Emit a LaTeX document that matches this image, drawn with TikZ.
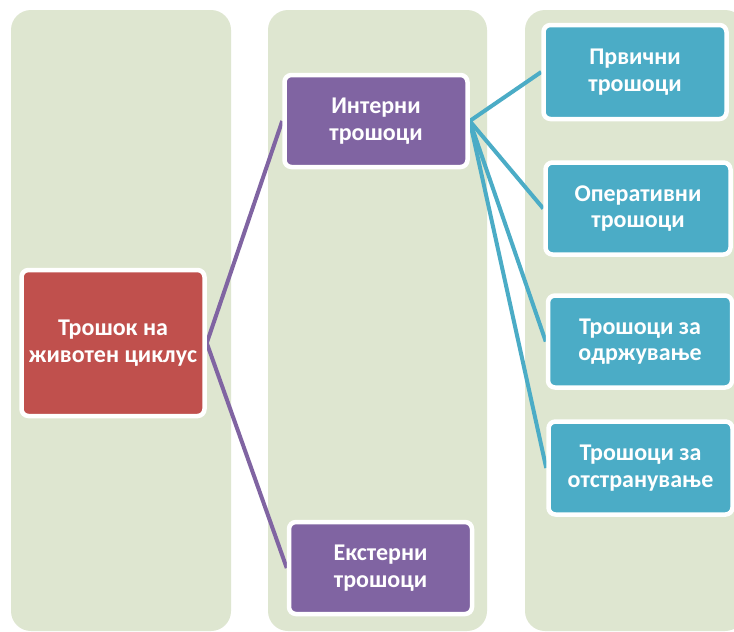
\documentclass[tikz,border=0pt]{standalone}
\usepackage{fontspec}
\setmainfont{Carlito}
\definecolor{bgcol}{RGB}{222,230,208}
\definecolor{redc}{RGB}{192,80,77}
\definecolor{purc}{RGB}{128,100,162}
\definecolor{tealc}{RGB}{75,172,198}
\pgfdeclarelayer{bglayer}
\pgfdeclarelayer{edgelayer}
\pgfsetlayers{bglayer,edgelayer,main}
\tikzset{
  box/.style={rounded corners=7pt, draw=white, line width=4.5pt, text=white,
    font=\bfseries\fontsize{24}{26.7}\selectfont, align=center, inner sep=0pt},
  redbox/.style={box, fill=redc, minimum width=183pt, minimum height=146pt},
  purbox/.style={box, fill=purc, minimum width=183pt, minimum height=92pt},
  tealbox/.style={box, fill=tealc, minimum width=184pt, minimum height=94pt},
  column/.style={fill=bgcol, rounded corners=20pt},
  purline/.style={draw=purc, line width=4pt},
  tealline/.style={draw=tealc, line width=4pt}
}
\begin{document}
\begin{tikzpicture}[x=1pt,y=-1pt]
\useasboundingbox (0,0) rectangle (734,632);
\begin{pgfonlayer}{bglayer}
\clip (0,0) rectangle (734,632);
\fill[white] (0,0) rectangle (734,632);
\fill[column] (11,10) rectangle (231,631);
\fill[column] (268,10) rectangle (487,631);
\fill[column] (525,10) rectangle (745,631);
\end{pgfonlayer}

\node[redbox] (root) at (113,343) {Трошок на\\животен циклус};
\node[purbox] (int) at (376,121) {Интерни\\трошоци};
\node[purbox] (ext) at (380.5,568) {Екстерни\\трошоци};
\node[tealbox, minimum width=183pt] (prv) at (635,72) {Првични\\трошоци};
\node[tealbox, minimum width=185pt, minimum height=92pt] (opr) at (638,208.5) {Оперативни\\трошоци};
\node[tealbox, minimum height=92pt] (odr) at (640,341.5) {Трошоци за\\одржување};
\node[tealbox, minimum height=93pt] (ots) at (640.5,468) {Трошоци за\\отстранување};

\begin{pgfonlayer}{edgelayer}
\draw[purline] (root.east) -- (int.west);
\draw[purline] (root.east) -- (ext.west);
\draw[tealline] (int.east) -- (prv.west);
\draw[tealline] (int.east) -- (opr.west);
\draw[tealline] (int.east) -- (odr.west);
\draw[tealline] (int.east) -- (ots.west);
\end{pgfonlayer}
\end{tikzpicture}
\end{document}
